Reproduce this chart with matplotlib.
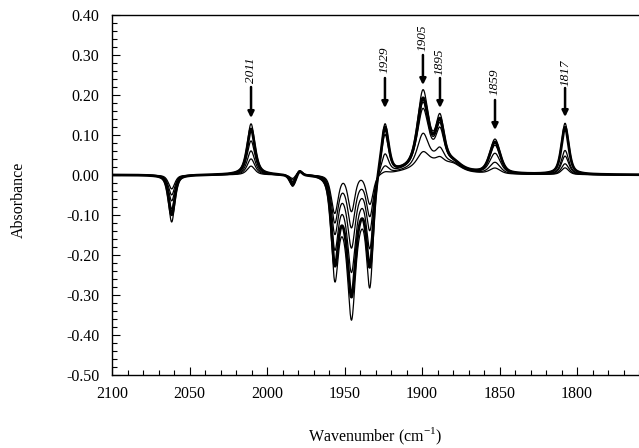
import numpy as np
import matplotlib
matplotlib.use("Agg")
import matplotlib.pyplot as plt
from matplotlib.ticker import MultipleLocator, FixedLocator

plt.rcParams['font.family'] = ['Liberation Serif', 'DejaVu Serif']
plt.rcParams['mathtext.fontset'] = 'custom'
plt.rcParams['mathtext.rm'] = 'Liberation Serif'

# ---- band parameters (cm-1) ----
band_centers = [2061.5, 2010.3, 1983.4, 1979.0, 1956.3, 1945.5, 1933.6, 1945.5,
                1923.9, 1899.4, 1888.4, 1895.0, 1852.9, 1807.7, 1880.0]
band_hwhm    = [2.4, 3.0, 2.2, 2.0, 2.6, 2.6, 2.6, 8.0,
                2.8, 4.2, 3.2, 14.0, 4.0, 2.8, 6.0]
band_eta     = [0.6, 0.7, 0.6, 0.5, 0.5, 0.5, 0.5, 0.0,
                0.6, 0.6, 0.6, 1.0, 0.5, 0.6, 0.5]

# amplitudes of each band for the six spectra (largest to smallest)
spectrum_1 = [-0.118, 0.128, -0.030, 0.012, -0.220, -0.206, -0.255, -0.150,
              0.130, 0.180, 0.110, 0.030, 0.085, 0.128, 0.015]
spectrum_2 = [-0.100, 0.115, -0.026, 0.012, -0.190, -0.180, -0.210, -0.120,
              0.120, 0.160, 0.100, 0.030, 0.078, 0.118, 0.015]
spectrum_3 = [-0.085, 0.085, -0.022, 0.012, -0.160, -0.150, -0.170, -0.090,
              0.100, 0.150, 0.090, 0.030, 0.070, 0.060, 0.015]
spectrum_4 = [-0.065, 0.060, -0.018, 0.012, -0.130, -0.120, -0.130, -0.060,
              0.050, 0.135, 0.080, 0.030, 0.050, 0.046, 0.015]
spectrum_5 = [-0.050, 0.040, -0.014, 0.012, -0.110, -0.100, -0.100, -0.030,
              0.020, 0.075, 0.035, 0.030, 0.028, 0.027, 0.015]
spectrum_6 = [-0.035, 0.022, -0.010, 0.012, -0.095, -0.090, -0.075, 0.000,
              0.005, 0.030, 0.015, 0.030, 0.014, 0.017, 0.015]
spectra = [spectrum_1, spectrum_2, spectrum_3, spectrum_4, spectrum_5, spectrum_6]
line_widths = [0.9, 2.0, 0.9, 0.9, 0.9, 0.9]

# peak labels (text, position of arrow in data units)
label_texts = ['2011', '1929', '1905', '1895', '1859', '1817']
label_x     = [2010.3, 1923.9, 1899.4, 1888.4, 1852.9, 1807.7]
arrow_top   = [0.220, 0.2425, 0.300, 0.2425, 0.1875, 0.2175]
arrow_tip   = [0.1425, 0.1675, 0.225, 0.1675, 0.1125, 0.145]
label_y     = [0.2625, 0.2875, 0.3425, 0.2825, 0.2325, 0.255]

x_ticks = [2100, 2050, 2000, 1950, 1900, 1850, 1800]
y_ticks = [0.40, 0.30, 0.20, 0.10, 0.00, -0.10, -0.20, -0.30, -0.40, -0.50]

wn = np.linspace(2100, 1760, 3401)


def band(x, c, w, eta):
    d = (x - c) / w
    return eta / (1 + d * d) + (1 - eta) * np.exp(-np.log(2) * d * d)


fig = plt.figure(figsize=(6.39, 4.48), dpi=100)
ax = fig.add_axes([112 / 639, 73 / 448, 1 - 112 / 639, 360 / 448])

for amps, lw in zip(spectra, line_widths):
    y = np.zeros_like(wn)
    for c, w, e, a in zip(band_centers, band_hwhm, band_eta, amps):
        y += a * band(wn, c, w, e)
    ax.plot(wn, y, color='black', lw=lw)

for t, x, yt, yp, yl in zip(label_texts, label_x, arrow_top, arrow_tip, label_y):
    ax.annotate('', xy=(x, yp), xytext=(x, yt),
                arrowprops=dict(arrowstyle='-|>', color='black', lw=1.8,
                                mutation_scale=9, shrinkA=0, shrinkB=0))
    ax.text(x, yl, t, rotation=90, ha='center', va='center',
            fontsize=9.5, style='italic')

ax.set_xlim(2100, 1760)
ax.set_ylim(-0.50, 0.40)
ax.xaxis.set_major_locator(FixedLocator(x_ticks))
ax.xaxis.set_minor_locator(MultipleLocator(10))
ax.yaxis.set_major_locator(FixedLocator(y_ticks))
ax.yaxis.set_minor_locator(MultipleLocator(0.02))
ax.set_xticklabels([str(v) for v in x_ticks])
ax.set_yticklabels(['%.2f' % v for v in y_ticks])
ax.tick_params(which='both', direction='in', top=False, right=False,
               labelsize=11.5, width=0.8)
ax.tick_params(axis='x', which='major', length=6, pad=8)
ax.tick_params(axis='x', which='minor', length=3.5)
ax.tick_params(axis='y', which='major', length=6, pad=9)
ax.tick_params(axis='y', which='minor', length=3.5)
ax.spines['right'].set_visible(False)
for s in ['left', 'bottom', 'top']:
    ax.spines[s].set_linewidth(1.0)

fig.text(19 / 639, 1 - 200 / 448, 'Absorbance', rotation=90,
         ha='center', va='center', fontsize=11.5)
fig.text(375 / 639, 1 - 436 / 448, 'Wavenumber (cm$^{\\mathregular{-1}}$)',
         ha='center', va='center', fontsize=11.5)

fig.savefig('out.png', dpi=100)
